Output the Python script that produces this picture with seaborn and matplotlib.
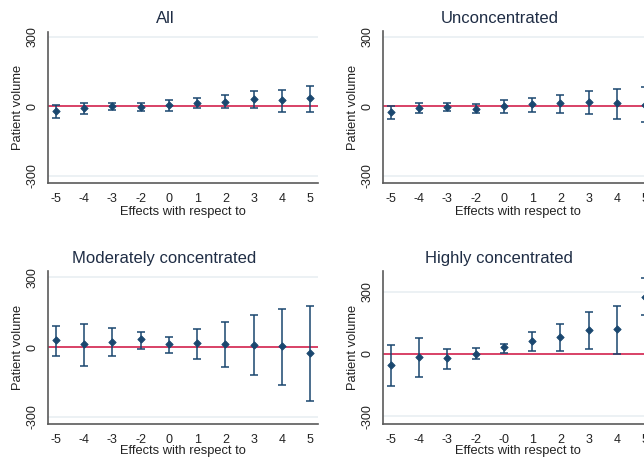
import numpy as np
import pandas as pd
import matplotlib
matplotlib.use("Agg")
import matplotlib.pyplot as plt
import seaborn as sns

sns.set_style("white")
plt.rcParams['font.family'] = ['Liberation Sans', 'DejaVu Sans']

# ---- data ----
labels_std = ["-5", "-4", "-3", "-2", "0", "1", "2", "3", "4", "5"]
labels_high = ["-5", "-4", "-3", "-2", "-0", "1", "2", "3", "4", "5"]

all_est = [-22, -6, 0, -3, 4, 16, 20, 32, 29, 35]
all_lo = [-50, -32, -16, -19, -19, -7, -9, -9, -23, -24]
all_hi = [4, 16, 16, 14, 26, 37, 48, 68, 71, 89]

unc_est = [-26, -7, -1, -10, 0, 9, 13, 20, 13, 7]
unc_lo = [-53, -27, -20, -30, -27, -23, -27, -35, -56, -69]
unc_hi = [3, 13, 14, 9, 26, 36, 50, 68, 76, 82]

mod_est = [29, 13, 23, 33, 13, 16, 13, 9, 3, -24]
mod_lo = [-39, -83, -39, -9, -27, -53, -86, -120, -165, -231]
mod_hi = [89, 100, 82, 67, 44, 79, 109, 139, 165, 179]

high_est = [-53, -14, -18, 2, 32, 61, 82, 115, 120, 276]
high_lo = [-156, -111, -72, -24, 3, 13, 13, 26, 0, 188]
high_hi = [42, 75, 26, 29, 50, 104, 146, 202, 231, 364]

titles = ["All", "Unconcentrated", "Moderately concentrated", "Highly concentrated"]

NAVY = "#1a476f"
RED = "#d6335a"
W, H = 644, 461

fig = plt.figure(figsize=(W / 100, H / 100), dpi=100)


def px_axes(left, top, right, bottom):
    return fig.add_axes([left / W, 1 - bottom / H, (right - left) / W, (bottom - top) / H])


panels = [
    dict(box=(48.3, 31.7, 318.3, 183.3), ylim=(-333, 323), est=all_est, lo=all_lo, hi=all_hi,
         labels=labels_std, title=titles[0], tx=165, ty=23.3),
    dict(box=(383.3, 31.0, 653.3, 183.3), ylim=(-333, 326), est=unc_est, lo=unc_lo, hi=unc_hi,
         labels=labels_std, title=titles[1], tx=500, ty=22.7),
    dict(box=(48.3, 270.7, 318.3, 424.0), ylim=(-331, 329), est=mod_est, lo=mod_lo, hi=mod_hi,
         labels=labels_std, title=titles[2], tx=164, ty=263.3),
    dict(box=(383.3, 270.7, 653.3, 424.0), ylim=(-337, 401), est=high_est, lo=high_lo, hi=high_hi,
         labels=labels_high, title=titles[3], tx=499, ty=263.3),
]

for p in panels:
    l, t, r, b = p["box"]
    ax = px_axes(l, t, r, b)
    df = pd.DataFrame({"period": p["labels"], "pos": np.arange(len(p["labels"])),
                       "est": p["est"], "lo": p["lo"], "hi": p["hi"]})
    # gridlines & zero line
    for g in (-300, 300):
        ax.axhline(g, color="#e9eff2", lw=1.2, zorder=0)
    ax.axhline(0, color=RED, lw=1.3, zorder=1)
    ax.errorbar(df["pos"], df["est"],
                yerr=[df["est"] - df["lo"], df["hi"] - df["est"]],
                fmt="none", ecolor=NAVY, elinewidth=1.1, capsize=3.0, capthick=1.1, zorder=2)
    sns.scatterplot(data=df, x="pos", y="est", ax=ax, color=NAVY, marker="D", s=14,
                    edgecolor=NAVY, linewidth=0.6, zorder=3, legend=False)
    ax.set_xlim(-0.27, 9.29)
    ax.set_ylim(*p["ylim"])
    ax.set_xticks(df["pos"])
    ax.set_xticklabels(p["labels"])
    ax.set_yticks([-300, 0, 300])
    ax.set_yticklabels(["-300", "0", "300"], rotation=90, va="center")
    ax.set_xlabel("")
    ax.set_ylabel("")
    for s in ("top", "right"):
        ax.spines[s].set_visible(False)
    for s in ("left", "bottom"):
        ax.spines[s].set_color("#5a5a5a")
        ax.spines[s].set_linewidth(1.2)
    ax.tick_params(axis="both", direction="out", length=4, width=1, color="#5a5a5a",
                   labelsize=9, labelcolor="#222222", pad=3)
    ax.tick_params(axis="y", pad=3)
    # labels
    cx = (l + r) / 2 if r <= W else l + 135
    fig.text(cx / W, 1 - 215 / H if t < 100 else 1 - (215 + 238.7) / H,
             "Effects with respect to", ha="center", va="baseline", fontsize=9.3, color="#222222")
    fig.text((l - 30.3) / W, 1 - ((t + b) / 2) / H, "Patient volume", rotation=90,
             ha="center", va="center", fontsize=9.3, color="#222222")
    fig.text(p["tx"] / W, 1 - p["ty"] / H, p["title"], ha="center", va="baseline",
             fontsize=12, color="#1f2d45")

fig.savefig("out.png", dpi=100)
